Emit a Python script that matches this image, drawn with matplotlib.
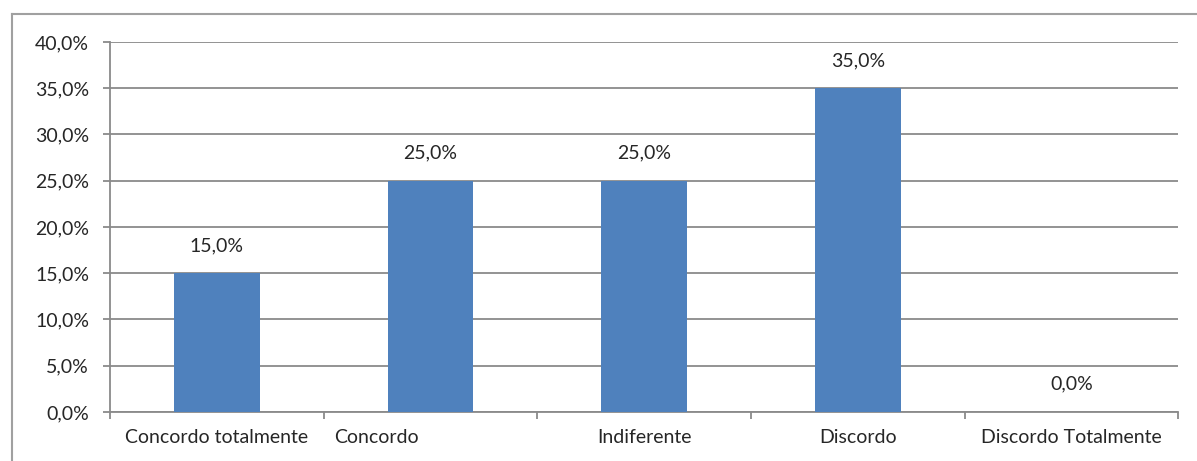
import numpy as np
import matplotlib
matplotlib.use("Agg")
import matplotlib.pyplot as plt
from matplotlib.ticker import FixedLocator, FuncFormatter
from matplotlib.transforms import ScaledTranslation
from matplotlib.lines import Line2D

plt.rcParams["font.family"] = ["Lato", "DejaVu Sans"]

# ── Data ──────────────────────────────────────────────────────────────
categories = ["Concordo totalmente", "Concordo", "Indiferente",
              "Discordo", "Discordo Totalmente"]
percent = [15.0, 25.0, 25.0, 35.0, 0.0]
y_ticks = [0, 5, 10, 15, 20, 25, 30, 35, 40]

BAR = "#4F81BD"
GRID = "#8A8A8A"
TXT = "#262626"
FS = 14


def pct(v):
    return f"{v:.1f}%".replace(".", ",")


fig = plt.figure(figsize=(11.97, 4.61), dpi=100)
ax = fig.add_axes([0.0919, 0.1063, 0.8925, 0.8026])

x = np.arange(len(categories))
bars = ax.bar(x, percent, width=0.4, color=BAR, zorder=3)

for b, v in zip(bars, percent):
    ax.annotate(pct(v), (b.get_x() + b.get_width() / 2, v),
                xytext=(0, 20), textcoords="offset points",
                ha="center", va="center", fontsize=FS, color=TXT)

ax.set_xlim(-0.5, len(categories) - 0.5)
ax.set_ylim(0, 40)

ax.yaxis.set_major_locator(FixedLocator(y_ticks))
ax.yaxis.set_major_formatter(FuncFormatter(lambda v, _: pct(v)))
ax.grid(axis="y", color=GRID, lw=1.3, zorder=0)

# category labels at centres, tick marks at boundaries
ax.set_xticks(x)
ax.set_xticklabels(categories)
ax.set_xticks(np.arange(-0.5, len(categories)), minor=True)
ax.tick_params(axis="x", which="major", length=0, pad=12,
               labelsize=FS, labelcolor=TXT)
ax.tick_params(axis="x", which="minor", length=5, color=GRID, width=1.3)
ax.tick_params(axis="y", length=5, color=GRID, width=1.3, pad=10,
               labelsize=FS, labelcolor=TXT)

# "Concordo" sits off-centre toward the left
lbl = ax.get_xticklabels()[1]
lbl.set_transform(lbl.get_transform() + ScaledTranslation(-0.54, 0, fig.dpi_scale_trans))

for s in ("top", "right"):
    ax.spines[s].set_visible(False)
for s in ("left", "bottom"):
    ax.spines[s].set_color(GRID)
    ax.spines[s].set_linewidth(1.3)

# outer chart frame
fw, fh = 1197, 461
fig.add_artist(Line2D([12 / fw, 12 / fw], [0, 1 - 14 / fh],
                      color="#A0A0A0", lw=1.5, transform=fig.transFigure))
fig.add_artist(Line2D([12 / fw, 1], [1 - 14 / fh, 1 - 14 / fh],
                      color="#A0A0A0", lw=1.5, transform=fig.transFigure))

fig.savefig("out.png", dpi=100)
